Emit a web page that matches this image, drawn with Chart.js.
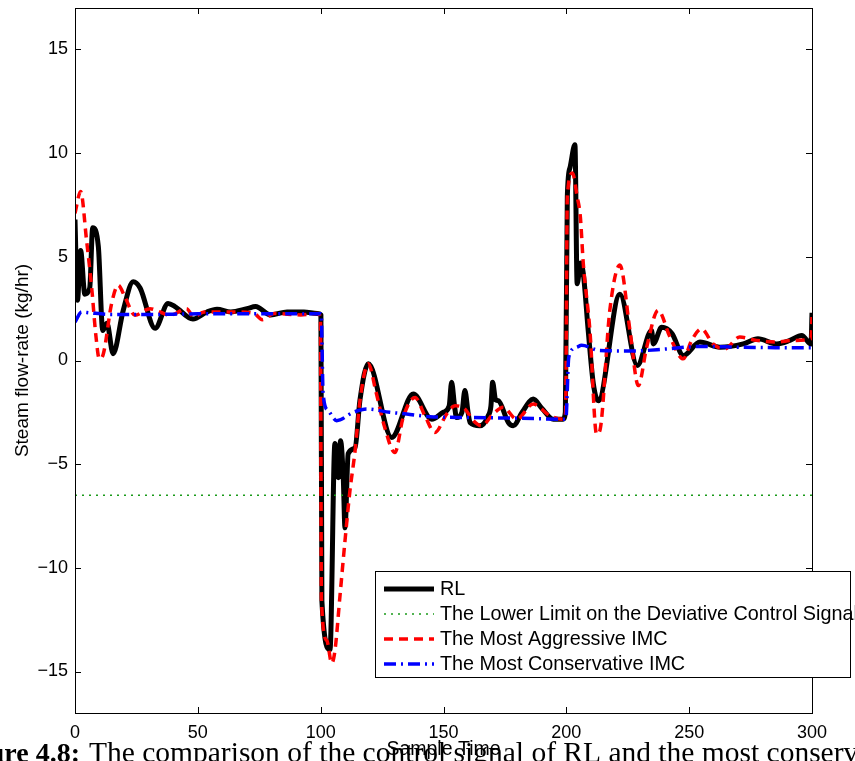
<!DOCTYPE html>
<html lang="en">
<head>
<meta charset="UTF-8" />
<title>Steam flow-rate</title>
<script src="https://cdn.jsdelivr.net/npm/chart.js"></script>
<style>
  body { margin: 0; background: #fff; }
</style>
</head>
<body>
<canvas id="steamChart" width="855" height="761"></canvas>
<script>
// values (sample time, kg/hr)
var rlX = [0, 1, 2.3, 4, 6, 7.2, 9.5, 11.3, 13, 15.5, 19.6, 23.7, 26.5, 32.6, 37.9, 40.7, 48, 53.7, 57.8, 63.4, 70, 73.5, 79.6, 86.3, 93.2, 98.6, 100.1,
  100.5, 103.8, 105.8, 107.2, 108.1, 109.2, 109.9, 111.2, 114, 116, 119.4, 128.9, 137.7, 145.2, 149.9, 152.3, 153.3, 154.5, 155.3, 157.5, 158.7, 160, 160.8,
  164.8, 168.2, 169.3, 170, 171.2, 172.3, 176.4, 178.4, 182, 186.5, 190, 194.7, 198.7, 199.6, 200.4, 201.5, 203.5, 204.4, 205.8, 206.9, 208.9, 211, 213,
  221.8, 228.9, 234.7, 235.4, 238.8, 243, 247.6, 254.4, 262.5, 272, 278, 285.6, 291, 295.8, 299.6, 300];
var rlY = [6.8, 2.9, 5.3, 3.2, 3.5, 6.4, 5.5, 1.45, 1.8, 0.33, 2.4, 3.8, 3.5, 1.55, 2.75, 2.6, 2.0, 2.34, 2.47, 2.34, 2.5, 2.6, 2.2, 2.34, 2.34, 2.27, 2.2,
  -11.6, -13.95, -4.0, -5.65, -3.87, -5.65, -8.07, -4.5, -4.2, -1.9, -0.16, -3.71, -1.61, -2.83, -2.5, -2.2, -1.05, -2.2, -2.75, -2.5, -1.45, -2.5, -2.99,
  -3.15, -2.66, -2.2, -1.05, -1.9, -1.94, -2.99, -3.15, -2.5, -1.86, -2.3, -2.83, -2.83, -2.5, 7.9, 9.3, 10.4, 3.7, 4.7, 4.2, 1.45, -1.13, -1.94,
  3.2, -0.24, 1.45, 0.8, 1.6, 1.3, 0.24, 0.89, 0.64, 0.8, 1.05, 0.8, 0.97, 1.21, 0.8, 2.3];

var aggX = [0, 2.3, 4.7, 6.8, 8.5, 9.9, 11.5, 14.9, 17.6, 20.3, 24.4, 30.5, 34.6, 38.7, 45.4, 48.4, 52.5, 65.6, 72.9, 76.2, 81, 91.9, 98.6, 99.9,
  100.3, 102.5, 104.5, 105.8, 107.9, 109.9, 111.9, 114, 116, 119.4, 122.5, 126, 130.2, 133.6, 138.4, 142.4, 146.5, 151.3, 154.7, 158.7, 162.1, 165.5,
  170.2, 174.3, 179.8, 186.5, 193.3, 198.7, 199.7, 200.4, 202.5, 204.4, 205.7, 206.9, 209.6, 212.3, 213.6, 217.7, 221.8, 225.9, 229.3, 232.7, 237.4,
  242.2, 247.6, 251, 255, 259.7, 264.5, 270.6, 277.4, 285.6, 292.4, 299.6, 300];
var aggY = [7.1, 8.15, 5.8, 3.5, 1.2, 0.08, 0.3, 2.75, 3.63, 3.07, 2.18, 2.5, 2.34, 2.18, 2.5, 2.1, 2.34, 2.34, 2.27, 1.97, 2.27, 2.2, 2.27, 2.1,
  -11.5, -13.5, -14.6, -14.0, -11.3, -8.7, -6.3, -4.36, -1.94, -0.16, -1.5, -3.2, -4.44, -2.74, -1.78, -2.66, -3.47, -2.58, -2.18, -2.34, -2.9, -3.15,
  -2.58, -2.26, -2.83, -2.1, -2.66, -2.83, -2.5, 7.9, 9.04, 7.9, 6.94, 4.68, 1.45, -3.55, -3.4, 2.42, 4.6, 1.45, -1.21, 0.64, 2.42,
  1.13, 0.08, 0.97, 1.53, 0.8, 0.56, 1.13, 0.97, 0.89, 0.97, 1.05, 2.1];

var consX = [0, 2.7, 6, 15, 30, 50, 70, 90, 100.2, 101, 103.1, 106.5, 113.3, 118.7, 128.2, 135, 144.5, 160, 180, 199.8, 201, 204.2, 206.2, 213.7,
  227.3, 240.9, 254.4, 270, 285, 300];
var consY = [1.85, 2.34, 2.3, 2.22, 2.22, 2.25, 2.25, 2.25, 2.26, -1.61, -2.42, -2.9, -2.5, -2.34, -2.5, -2.58, -2.71, -2.75, -2.78, -2.83, 0.16, 0.64, 0.73, 0.48,
  0.46, 0.56, 0.68, 0.64, 0.62, 0.62];

var limitX = [0, 300];
var limitY = [-6.5, -6.5];

var xTicks = [0, 50, 100, 150, 200, 250, 300];
var yTicks = [-15, -10, -5, 0, 5, 10, 15];
var seriesNames = ["RL", "The Lower Limit on the Deviative Control Signal", "The Most Aggressive IMC", "The Most Conservative IMC"];

function toPoints(xs, ys) {
  return xs.map(function (x, i) { return { x: x, y: ys[i] }; });
}

// white page, figure caption peeking under the plot
var captionPlugin = {
  id: "caption",
  beforeDraw: function (chart) {
    var ctx = chart.ctx;
    ctx.save();
    ctx.fillStyle = "#fff";
    ctx.fillRect(0, 0, chart.width, chart.height);
    ctx.fillStyle = "#000";
    ctx.textBaseline = "alphabetic";
    ctx.font = "bold 28px 'Liberation Serif'";
    var bold = "Figure 4.8:";
    ctx.fillText(bold, 80 - ctx.measureText(bold).width, 762);
    ctx.font = "29.5px 'Liberation Serif'";
    ctx.fillText("The comparison of the control signal of RL and the most conservative", 89, 762);
    ctx.restore();
  }
};

// matlab style box and inward ticks
var boxPlugin = {
  id: "box",
  afterDatasetsDraw: function (chart) {
    var ctx = chart.ctx, a = chart.chartArea;
    var xs = chart.scales.x, ys = chart.scales.y;
    ctx.save();
    ctx.strokeStyle = "#000";
    ctx.lineWidth = 1;
    ctx.strokeRect(a.left + 0.5, a.top + 0.5, a.right - a.left, a.bottom - a.top);
    ctx.beginPath();
    yTicks.forEach(function (v) {
      var p = Math.round(ys.getPixelForValue(v)) + 0.5;
      ctx.moveTo(a.left, p); ctx.lineTo(a.left + 6, p);
      ctx.moveTo(a.right, p); ctx.lineTo(a.right - 6, p);
    });
    xTicks.forEach(function (v) {
      var p = Math.round(xs.getPixelForValue(v)) + 0.5;
      ctx.moveTo(p, a.bottom); ctx.lineTo(p, a.bottom - 6);
      ctx.moveTo(p, a.top); ctx.lineTo(p, a.top + 6);
    });
    ctx.stroke();
    ctx.restore();
  }
};

// legend box inside the axes, lower right
var legendPlugin = {
  id: "boxLegend",
  afterDraw: function (chart) {
    var ctx = chart.ctx;
    var left = 375, top = 571, w = 475, h = 106;
    ctx.save();
    ctx.fillStyle = "#fff";
    ctx.fillRect(left, top, w, h);
    ctx.strokeStyle = "#000";
    ctx.lineWidth = 1;
    ctx.strokeRect(left + 0.5, top + 0.5, w, h);
    ctx.font = "19.8px 'Liberation Sans'";
    ctx.textBaseline = "middle";
    chart.data.datasets.forEach(function (ds, row) {
      var y = top + 18 + row * 25;
      ctx.beginPath();
      ctx.strokeStyle = ds.borderColor;
      ctx.lineWidth = ds.borderWidth;
      ctx.setLineDash(ds.borderDash || []);
      ctx.moveTo(384, y);
      ctx.lineTo(434, y);
      ctx.stroke();
      ctx.setLineDash([]);
      ctx.fillStyle = "#000";
      ctx.fillText(ds.label, 440, y + 1);
    });
    ctx.restore();
  }
};

var ctx = document.getElementById("steamChart").getContext("2d");
var steamChart = new Chart(ctx, {
  type: "line",
  data: {
    datasets: [
      {
        label: seriesNames[0],
        data: toPoints(rlX, rlY),
        borderColor: "#000000",
        borderWidth: 5,
        order: 4
      },
      {
        label: seriesNames[1],
        data: toPoints(limitX, limitY),
        borderColor: "#1a9a1a",
        borderWidth: 1.5,
        borderDash: [2, 5],
        order: 3
      },
      {
        label: seriesNames[2],
        data: toPoints(aggX, aggY),
        borderColor: "#ff0000",
        borderWidth: 3.5,
        borderDash: [9, 6],
        order: 2
      },
      {
        label: seriesNames[3],
        data: toPoints(consX, consY),
        borderColor: "#0000ff",
        borderWidth: 3.5,
        borderDash: [12, 5, 2, 5],
        order: 1
      }
    ]
  },
  options: {
    responsive: false,
    animation: false,
    events: [],
    layout: { padding: { top: 8, right: 43, left: 0, bottom: 0 } },
    elements: {
      point: { radius: 0 },
      line: { cubicInterpolationMode: "monotone", borderJoinStyle: "round", fill: false }
    },
    plugins: {
      legend: { display: false },
      tooltip: { enabled: false }
    },
    scales: {
      x: {
        type: "linear",
        min: 0,
        max: 300,
        afterBuildTicks: function (scale) {
          scale.ticks = xTicks.map(function (v) { return { value: v }; });
        },
        afterFit: function (scale) { scale.height = 48; },
        grid: { display: false, drawTicks: false },
        border: { display: false },
        ticks: {
          color: "#000",
          padding: 9,
          maxRotation: 0,
          font: { family: "'Liberation Sans'", size: 18 }
        },
        title: {
          display: true,
          text: "Sample Time",
          color: "#000",
          padding: { top: 3, bottom: 0 },
          font: { family: "'Liberation Sans'", size: 19.5 }
        }
      },
      y: {
        type: "linear",
        min: -17,
        max: 17,
        afterBuildTicks: function (scale) {
          scale.ticks = yTicks.map(function (v) { return { value: v }; });
        },
        afterFit: function (scale) {
          scale.width = 75;
          scale.paddingTop = 0;
          scale.paddingBottom = 0;
        },
        grid: { display: false, drawTicks: false },
        border: { display: false },
        ticks: {
          color: "#000",
          padding: 7,
          font: { family: "'Liberation Sans'", size: 18 },
          callback: function (v) { return v < 0 ? "\u2212" + Math.abs(v) : String(v); }
        },
        title: {
          display: true,
          text: "Steam flow-rate (kg/hr)",
          color: "#000",
          padding: { top: 11, bottom: 0 },
          font: { family: "'Liberation Sans'", size: 19 }
        }
      }
    }
  },
  plugins: [captionPlugin, boxPlugin, legendPlugin]
});
</script>
</body>
</html>
